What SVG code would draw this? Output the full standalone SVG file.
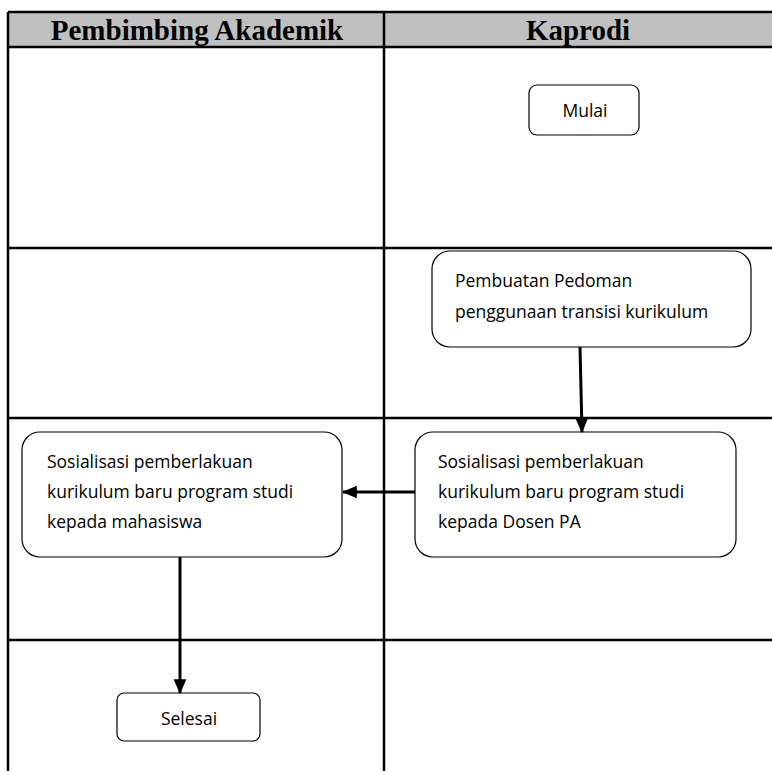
<svg xmlns="http://www.w3.org/2000/svg" width="772" height="771" viewBox="0 0 772 771">
<style>
.grid{stroke:#000;stroke-width:2.5;fill:none}
.node{fill:#fff;stroke:#000;stroke-width:1.2}
.hd{font-family:"Liberation Serif","Times New Roman",serif;font-weight:bold;font-size:29px;fill:#000;text-anchor:middle}
.t{font-family:"Open Sans","Noto Sans",sans-serif;font-size:17.5px;fill:#000}
.tc{font-family:"Open Sans","Noto Sans",sans-serif;font-size:17.5px;fill:#000;text-anchor:middle}
.conn{stroke:#000;stroke-width:3;fill:none}
</style>
<defs>
<marker id="arr" markerWidth="5" markerHeight="5" refX="4.6" refY="2.5" orient="auto" markerUnits="strokeWidth">
<path d="M0,0.4 L5,2.5 L0,4.6 Z" fill="#000"/>
</marker>
</defs>
<rect width="772" height="771" fill="#fff"/>
<g id="table">
<rect x="8" y="12" width="766" height="35" fill="#c0c0c0"/>
<line class="grid" x1="8" y1="12" x2="772" y2="12"/>
<line class="grid" x1="8" y1="47" x2="772" y2="47"/>
<line class="grid" x1="8" y1="248" x2="772" y2="248"/>
<line class="grid" x1="8" y1="418" x2="772" y2="418"/>
<line class="grid" x1="8" y1="640" x2="772" y2="640"/>
<line class="grid" x1="8" y1="12" x2="8" y2="771"/>
<line class="grid" x1="384" y1="12" x2="384" y2="771"/>
<text class="hd" x="197" y="40">Pembimbing Akademik</text>
<text class="hd" x="578" y="40">Kaprodi</text>
</g>
<g id="mulai">
<rect class="node" x="529" y="85" width="110" height="50" rx="8"/>
<text class="tc" x="585" y="117">Mulai</text>
</g>
<g id="pembuatan">
<rect class="node" x="432" y="251" width="319" height="96" rx="18"/>
<text class="t" x="455" y="287">Pembuatan Pedoman</text>
<text class="t" x="455" y="318">penggunaan transisi kurikulum</text>
</g>
<g id="sosialisasi-dosen">
<rect class="node" x="415" y="432" width="321" height="125" rx="18"/>
<text class="t" x="438" y="468">Sosialisasi pemberlakuan</text>
<text class="t" x="438" y="498">kurikulum baru program studi</text>
<text class="t" x="438" y="528">kepada Dosen PA</text>
</g>
<g id="sosialisasi-mahasiswa">
<rect class="node" x="22" y="432" width="320" height="125" rx="18"/>
<text class="t" x="47" y="468">Sosialisasi pemberlakuan</text>
<text class="t" x="47" y="498">kurikulum baru program studi</text>
<text class="t" x="47" y="528">kepada mahasiswa</text>
</g>
<g id="selesai">
<rect class="node" x="117" y="693" width="143" height="48" rx="7"/>
<text class="tc" x="189" y="725">Selesai</text>
</g>
<g id="connectors">
<line class="conn" x1="580" y1="347" x2="582" y2="432" marker-end="url(#arr)"/>
<line class="conn" x1="415" y1="492" x2="343" y2="492" marker-end="url(#arr)"/>
<line class="conn" x1="180" y1="557" x2="180" y2="693" marker-end="url(#arr)"/>
</g>
</svg>
